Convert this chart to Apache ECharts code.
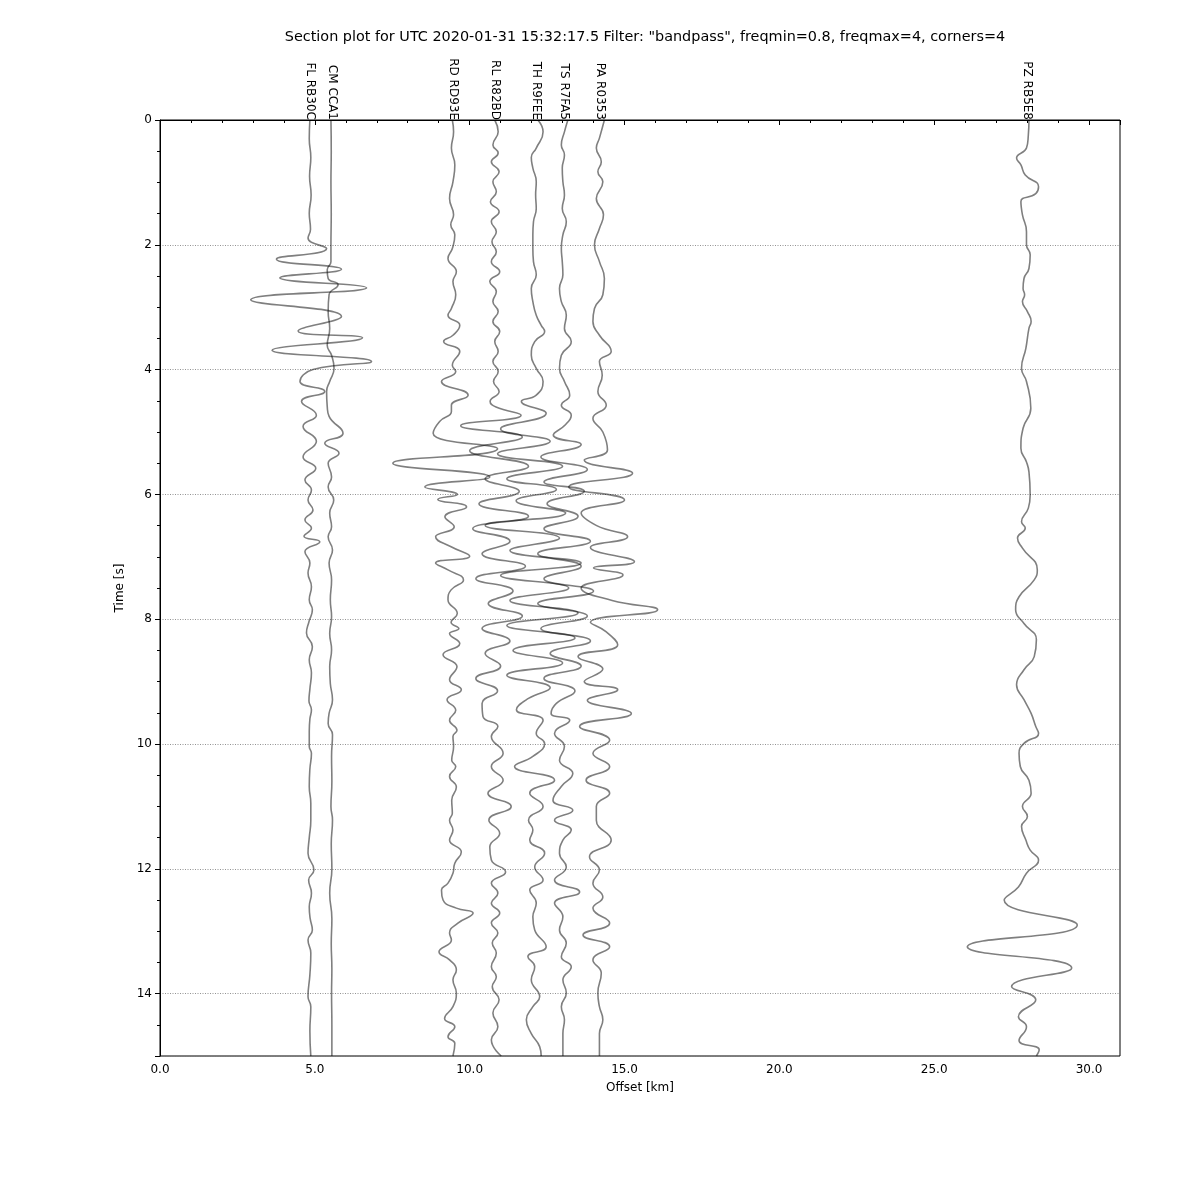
<!DOCTYPE html>
<html><head><meta charset="utf-8">
<script src="https://cdn.jsdelivr.net/npm/echarts@6/dist/echarts.min.js"></script>
<style>html,body{margin:0;padding:0;background:#fff}#c{width:1200px;height:1200px}</style>
</head><body><div id="c"></div>
<script>
const titleText = 'Section plot for UTC 2020-01-31 15:32:17.5 Filter: "bandpass", freqmin=0.8, freqmax=4, corners=4';
const stationNames = ['FL RB30C','CM CCA1','RD RD93E','RL R82BD','TH R9FEE','TS R7FA5','PA R0353','PZ RB5E8'];
const stationOffsets = [4.86, 5.55, 9.47, 10.83, 12.13, 13.05, 14.2, 28.0];
// each trace: [time s, offset km]
const traceFL = [[0,4.84],[0.3,4.82],[0.6,4.87],[0.9,4.83],[1.2,4.88],[1.5,4.82],[1.75,4.86],[1.89,4.78],
[2.06,5.38],[2.23,3.76],[2.39,5.86],[2.53,3.87],[2.69,6.67],[2.88,2.93],[3.15,5.86],[3.38,4.46],[3.49,6.54],[3.69,3.62],[3.87,6.83],[4.0,4.94],[4.19,4.52],[4.35,5.32],[4.51,4.57],[4.73,5.05],[4.91,4.62],[5.15,5.05],[5.40,4.62],[5.58,5.03],[5.77,4.68],[5.93,4.89],[6.09,4.78],[6.25,4.94],[6.41,4.68],[6.54,4.89],[6.67,4.65],[6.76,5.16],[6.92,4.68],[7.10,4.84],[7.26,4.78],[7.48,4.89],[7.69,4.82],[7.85,4.92],[8.04,4.81],[8.22,4.73],[8.44,4.92],[8.65,4.82],[8.86,4.89],[9.12,4.84],[9.31,4.81],[9.45,4.89],[9.6,4.84],[9.8,4.82],[10.04,4.82],[10.15,4.89],[10.4,4.84],[10.68,4.82],[10.95,4.87],[11.22,4.87],[11.5,4.82],[11.75,4.78],[12.02,4.97],[12.18,4.80],[12.39,4.89],[12.61,4.82],[12.8,4.85],[12.98,4.92],[13.14,4.78],[13.35,4.87],[13.7,4.84],[14.05,4.78],[14.21,4.87],[14.6,4.84],[15,4.87]];
const traceCM = [[0,5.52],[0.5,5.53],[1.0,5.52],[1.5,5.53],[2.0,5.52],[2.27,5.52],[2.40,5.40],[2.54,5.43],[2.64,5.75],[2.80,5.46],[3.07,5.43],[3.34,5.48],[3.61,5.40],[3.77,5.54],[3.98,5.62],[4.19,5.48],[4.35,5.38],[4.59,5.40],[4.75,5.46],[5.02,5.91],[5.18,5.32],[5.34,5.78],[5.50,5.43],[5.72,5.54],[5.88,5.43],[6.09,5.61],[6.30,5.48],[6.52,5.54],[6.68,5.43],[6.89,5.57],[7.10,5.46],[7.37,5.54],[7.69,5.50],[7.96,5.54],[8.23,5.48],[8.49,5.54],[8.76,5.48],[9.03,5.50],[9.29,5.57],[9.51,5.46],[9.67,5.43],[9.85,5.57],[10.2,5.54],[10.6,5.55],[11.0,5.52],[11.22,5.57],[11.6,5.53],[12.0,5.55],[12.39,5.48],[12.8,5.55],[13.2,5.53],[13.6,5.55],[14.0,5.54],[14.5,5.55],[15,5.55]];
const traceRD = [[0,9.44],[0.19,9.48],[0.45,9.41],[0.72,9.52],[0.99,9.46],[1.26,9.35],[1.52,9.48],[1.68,9.39],[1.84,9.52],[2.06,9.44],[2.22,9.30],[2.43,9.57],[2.59,9.46],[2.80,9.55],[3.02,9.41],[3.13,9.30],[3.29,9.68],[3.45,9.46],[3.55,9.16],[3.71,9.68],[3.93,9.44],[4.03,9.55],[4.19,9.09],[4.41,9.95],[4.57,9.41],[4.67,9.41],[4.83,9.03],[5.02,8.82],[5.27,10.9],[5.5,7.52],[5.72,10.65],[5.88,8.55],[6.0,9.6],[6.08,8.97],[6.2,9.9],[6.36,9.2],[6.52,9.5],[6.68,8.9],[6.84,9.4],[6.99,10.0],[7.1,8.9],[7.21,9.3],[7.37,9.8],[7.53,9.4],[7.69,9.3],[7.91,9.6],[8.05,9.4],[8.15,9.65],[8.23,9.35],[8.39,9.68],[8.57,9.14],[8.76,9.59],[8.97,9.35],[9.13,9.73],[9.29,9.27],[9.46,9.55],[9.62,9.35],[9.78,9.59],[9.88,9.46],[10.04,9.48],[10.26,9.42],[10.36,9.55],[10.52,9.35],[10.69,9.57],[10.9,9.42],[11.11,9.44],[11.22,9.35],[11.38,9.46],[11.54,9.35],[11.73,9.73],[11.91,9.52],[12.07,9.46],[12.23,9.3],[12.34,9.09],[12.5,9.14],[12.63,9.57],[12.71,10.11],[12.87,9.62],[13.03,9.35],[13.14,9.41],[13.33,9.01],[13.46,9.35],[13.62,9.57],[13.78,9.46],[13.99,9.57],[14.21,9.46],[14.40,9.19],[14.53,9.52],[14.69,9.3],[14.80,9.52],[15,9.46]];
const traceRL = [[0,10.81],[0.19,10.92],[0.40,10.75],[0.53,10.92],[0.67,10.70],[0.83,10.95],[0.99,10.75],[1.15,10.86],[1.31,10.67],[1.47,10.95],[1.63,10.70],[1.79,10.86],[1.95,10.72],[2.11,10.86],[2.27,10.70],[2.43,10.97],[2.59,10.65],[2.75,10.86],[2.91,10.75],[3.07,10.92],[3.23,10.75],[3.39,10.97],[3.55,10.81],[3.71,10.92],[3.87,10.75],[4.03,10.92],[4.19,10.77],[4.35,10.95],[4.51,10.66],[4.6,10.85],[4.73,11.66],[4.9,9.71],[5.08,11.7],[5.3,10.0],[5.55,11.9],[5.75,10.5],[5.95,11.6],[6.15,10.3],[6.35,11.9],[6.55,10.1],[6.75,11.3],[6.95,10.4],[7.15,11.8],[7.35,10.2],[7.55,11.4],[7.75,10.6],[7.95,11.7],[8.15,10.4],[8.35,11.3],[8.55,10.5],[8.75,11.0],[8.95,10.2],[9.15,10.9],[9.35,10.4],[9.56,10.43],[9.72,10.91],[9.88,10.70],[10.15,11.08],[10.36,10.70],[10.58,11.08],[10.79,10.59],[11.0,11.34],[11.22,10.62],[11.43,10.97],[11.65,10.65],[11.86,10.70],[12.05,11.16],[12.23,10.70],[12.39,10.91],[12.55,10.70],[12.71,10.97],[12.87,10.70],[13.03,10.91],[13.19,10.73],[13.35,10.86],[13.57,10.70],[13.73,10.86],[13.89,10.73],[14.10,10.95],[14.31,10.75],[14.53,10.91],[14.74,10.70],[15,11.02]];
const traceTH = [[0,12.2],[0.19,12.37],[0.45,12.15],[0.6,11.99],[0.77,12.04],[0.99,12.15],[1.20,12.13],[1.42,12.15],[1.63,12.06],[1.84,12.04],[2.06,12.04],[2.27,12.06],[2.48,12.15],[2.70,11.99],[2.91,12.04],[3.13,12.15],[3.29,12.31],[3.39,12.42],[3.55,12.10],[3.77,11.99],[3.98,12.15],[4.19,12.37],[4.41,12.15],[4.51,11.67],[4.70,12.47],[4.95,11.0],[5.15,12.6],[5.35,10.9],[5.55,13.0],[5.75,11.2],[5.92,12.8],[6.1,11.5],[6.3,13.1],[6.5,10.5],[6.7,12.9],[6.9,11.3],[7.1,13.6],[7.3,11.0],[7.5,13.2],[7.7,11.3],[7.9,13.5],[8.1,11.2],[8.3,13.4],[8.5,11.4],[8.7,13.0],[8.9,11.2],[9.1,12.6],[9.27,11.9],[9.45,11.51],[9.62,12.37],[9.83,12.15],[9.99,12.42],[10.20,12.04],[10.36,11.45],[10.58,12.74],[10.79,11.94],[11.0,12.37],[11.22,11.90],[11.38,12.04],[11.54,11.94],[11.75,12.42],[11.97,12.10],[12.18,12.37],[12.34,11.94],[12.55,12.15],[12.77,12.04],[12.98,12.10],[13.25,12.47],[13.41,11.88],[13.57,12.10],[13.78,11.99],[14.05,12.26],[14.21,12.04],[14.42,11.83],[14.64,11.99],[14.85,12.26],[15,12.31]];
const traceTS = [[0,13.17],[0.19,13.06],[0.40,12.96],[0.56,13.06],[0.77,12.99],[0.99,13.01],[1.20,13.06],[1.42,12.99],[1.63,13.12],[1.84,13.01],[2.06,12.96],[2.27,12.99],[2.48,13.01],[2.70,12.90],[2.91,12.96],[3.13,13.12],[3.34,13.06],[3.55,13.28],[3.77,12.96],[3.98,12.90],[4.19,13.06],[4.41,13.23],[4.57,12.96],[4.73,13.28],[4.88,13.1],[5.05,12.7],[5.2,13.6],[5.4,12.3],[5.6,13.8],[5.8,12.4],[5.95,13.7],[6.15,12.5],[6.35,13.5],[6.55,12.4],[6.75,13.9],[6.95,12.2],[7.15,13.6],[7.35,12.4],[7.55,14.0],[7.75,12.2],[7.95,13.8],[8.15,12.3],[8.35,13.9],[8.55,12.6],[8.75,13.6],[8.95,12.4],[9.15,13.4],[9.35,12.8],[9.51,12.63],[9.62,13.23],[9.83,12.74],[10.04,13.06],[10.26,12.90],[10.47,13.33],[10.68,12.96],[10.90,12.69],[11.06,13.33],[11.22,12.74],[11.38,13.28],[11.54,13.01],[11.75,12.90],[11.97,13.12],[12.18,12.74],[12.37,13.55],[12.55,12.74],[12.77,13.01],[12.98,12.90],[13.19,13.12],[13.41,12.96],[13.57,13.28],[13.78,13.01],[13.99,13.12],[14.21,12.96],[14.42,13.06],[14.64,13.01],[15,13.01]];
const tracePA = [[0,14.35],[0.29,14.19],[0.45,14.09],[0.67,14.25],[0.83,14.14],[0.99,14.30],[1.26,14.09],[1.52,14.32],[1.74,14.19],[2.00,14.03],[2.27,14.19],[2.54,14.35],[2.80,14.30],[3.02,14.03],[3.23,13.98],[3.45,14.19],[3.71,14.57],[3.87,14.19],[4.09,14.28],[4.35,14.14],[4.57,14.41],[4.78,13.98],[5.0,14.3],[5.29,14.45],[5.45,13.7],[5.66,15.26],[5.88,13.2],[6.09,15.0],[6.3,13.6],[6.5,14.1],[6.68,15.1],[6.85,13.9],[7.08,15.32],[7.18,14.0],[7.29,14.95],[7.5,13.6],[7.7,14.6],[7.85,16.07],[8.05,13.9],[8.2,14.4],[8.41,14.78],[8.6,13.5],[8.8,14.3],[9.0,13.7],[9.13,14.78],[9.3,13.8],[9.51,15.22],[9.72,13.55],[9.94,14.52],[10.15,13.98],[10.36,14.52],[10.58,13.76],[10.79,14.52],[11.0,14.09],[11.22,14.09],[11.54,14.57],[11.81,13.87],[12.02,14.19],[12.23,13.98],[12.45,14.30],[12.63,13.98],[12.87,14.52],[13.06,13.66],[13.25,14.52],[13.46,13.98],[13.67,14.25],[13.99,14.14],[14.21,14.19],[14.42,14.30],[14.64,14.19],[15,14.19]];
const tracePZ = [[0,28.06],[0.24,28.04],[0.45,27.98],[0.61,27.66],[0.72,27.80],[0.88,27.94],[1.07,28.37],[1.18,28.28],[1.31,27.80],[1.52,27.85],[1.79,27.98],[2.00,27.98],[2.16,28.10],[2.38,28.06],[2.54,27.90],[2.70,27.87],[2.80,27.92],[2.91,27.85],[3.07,28.01],[3.23,28.13],[3.34,28.06],[3.66,27.96],[3.98,27.82],[4.19,27.98],[4.62,28.12],[4.94,27.87],[5.26,27.80],[5.48,27.98],[5.64,28.06],[6.01,28.10],[6.22,28.04],[6.44,27.82],[6.54,27.94],[6.70,27.69],[6.86,27.85],[7.21,28.33],[7.37,28.23],[7.64,27.74],[7.85,27.63],[8.07,27.90],[8.33,28.30],[8.60,28.23],[8.81,27.90],[9.05,27.66],[9.29,27.90],[9.51,28.13],[9.72,28.28],[9.83,28.37],[9.99,27.90],[10.15,27.74],[10.36,27.78],[10.58,28.06],[10.79,28.13],[11.0,27.85],[11.16,28.01],[11.32,27.82],[11.54,27.96],[11.70,28.10],[11.86,28.37],[12.07,27.98],[12.29,27.72],[12.50,27.26],[12.9,29.62],[13.25,26.07],[13.59,29.44],[13.89,27.50],[14.1,28.28],[14.37,27.72],[14.53,27.98],[14.75,27.74],[14.90,28.39],[15,28.3]];
const traces = [traceFL, traceCM, traceRD, traceRL, traceTH, traceTS, tracePA, tracePZ];

const FONT = 'DejaVu Sans';
const chart = echarts.init(document.getElementById('c'), null, {renderer: 'canvas'});
const series = traces.map((tr, i) => ({
  type: 'line', name: stationNames[i], data: tr.map(p => [p[1], p[0]]),
  smooth: 0.5, showSymbol: false, symbol: 'none',
  lineStyle: {color: 'rgba(0,0,0,0.5)', width: 1.6}, animation: false
}));
chart.setOption({
  animation: false,
  title: {text: titleText, left: 640, top: 25, textAlign: 'center',
    textStyle: {fontFamily: FONT, fontSize: 14.4, fontWeight: 'normal', color: '#000'}},
  grid: {left: 160, right: 80, top: 120, bottom: 144, show: true, borderColor: '#000', borderWidth: 1, backgroundColor: 'transparent'},
  xAxis: {type: 'value', min: 0, max: 31, interval: 5,
    name: 'Offset [km]', nameLocation: 'middle', nameGap: 26,
    nameTextStyle: {fontFamily: FONT, fontSize: 12, color: '#000'},
    axisLine: {lineStyle: {color: '#000', width: 1}},
    axisTick: {show: true, length: 5, lineStyle: {color: '#000'}},
    minorTick: {show: true, splitNumber: 5, length: 3, lineStyle: {color: '#000'}},
    axisLabel: {fontFamily: FONT, fontSize: 12, color: '#000', margin: 8, showMaxLabel: false,
      formatter: v => v.toFixed(1)},
    splitLine: {show: false}},
  yAxis: {type: 'value', inverse: true, min: 0, max: 15, interval: 2,
    name: 'Time [s]', nameLocation: 'middle', nameGap: 30, nameRotate: 90,
    nameTextStyle: {fontFamily: FONT, fontSize: 12, color: '#000'},
    axisLine: {lineStyle: {color: '#000', width: 1}},
    axisTick: {show: true, length: 5, lineStyle: {color: '#000'}},
    minorTick: {show: true, splitNumber: 4, length: 3, lineStyle: {color: '#000'}},
    axisLabel: {fontFamily: FONT, fontSize: 12, color: '#000', margin: 8, showMaxLabel: false},
    splitLine: {show: true, lineStyle: {color: '#777', width: 0.8, type: [1, 1.5]}}},
  series: series
});
const graphics = stationNames.map((name, i) => {
  const p = chart.convertToPixel({gridIndex: 0}, [stationOffsets[i], 0]);
  return {type: 'text', x: p[0], y: p[1], rotation: -Math.PI / 2, silent: true,
    style: {text: name, align: 'right', verticalAlign: 'middle', fontFamily: FONT, fontSize: 12, fill: '#000'}};
});
chart.setOption({graphic: graphics});
</script>
</body></html>
